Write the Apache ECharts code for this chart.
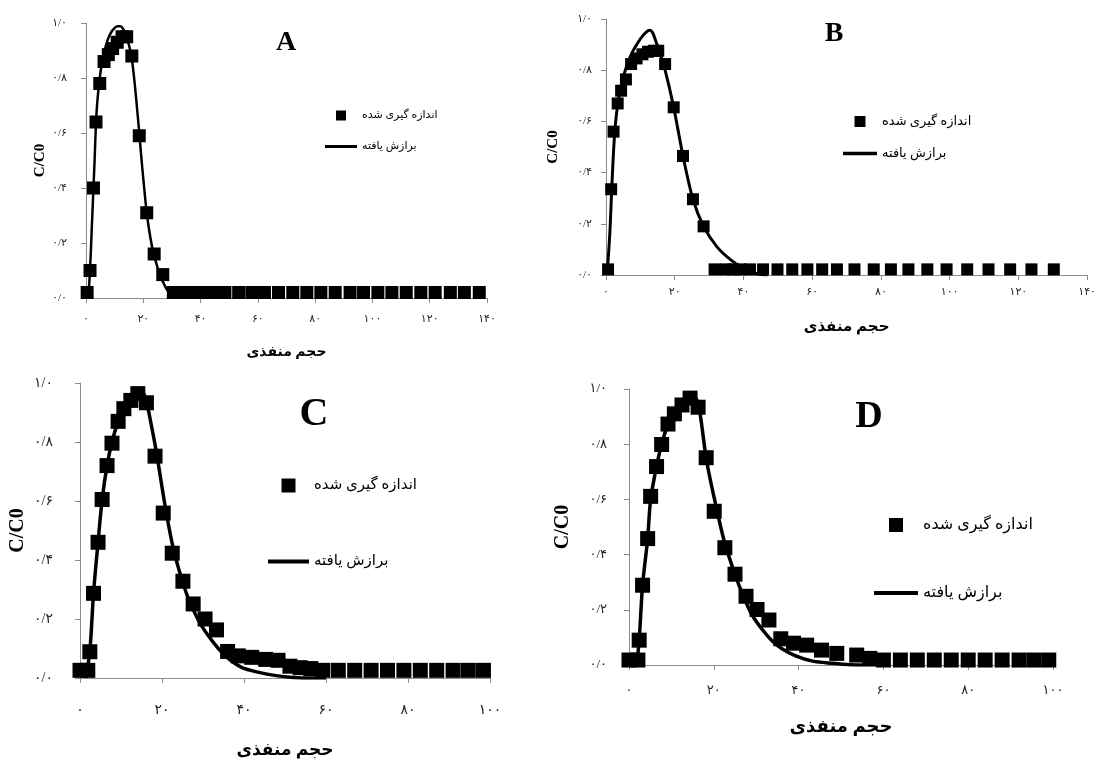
<!DOCTYPE html>
<html>
<head>
<meta charset="utf-8">
<script src="https://cdn.jsdelivr.net/npm/echarts@6/dist/echarts.min.js"></script>
<style>
html, body { margin: 0; padding: 0; background: #fff; }
#chart { width: 1099px; height: 762px; }
</style>
</head>
<body>
<div id="chart"></div>
<script>
var measName = 'اندازه گیری شده';
var fitName = 'برازش یافته';
var xName = 'حجم منفذی';
var yName = 'C/C0';
var panelLetters = ['A', 'B', 'C', 'D'];

var yTickLabels = ['۰/۰', '۰/۲', '۰/۴', '۰/۶', '۰/۸', '۱/۰'];
var xTickLabels140 = ['۰', '۲۰', '۴۰', '۶۰', '۸۰', '۱۰۰', '۱۲۰', '۱۴۰'];
var xTickLabels100 = ['۰', '۲۰', '۴۰', '۶۰', '۸۰', '۱۰۰'];

// A
var aMeasX = [0.4, 1.4, 2.6, 3.5, 4.8, 6.3, 7.8, 9.3, 10.9, 12.6, 14.2, 16, 18.6, 21.2, 23.8, 26.8,
  30.5, 32.5, 34.5, 36.5, 38.5, 40.5, 42.5, 44.5, 46.5, 48.5, 53.3, 57.9, 62.3, 67.2, 72.2, 77.1,
  82, 87, 92.2, 96.9, 101.9, 106.8, 111.8, 116.9, 121.9, 127.2, 132.1, 137.3];
var aMeasY = [0.02, 0.1, 0.4, 0.64, 0.78, 0.86, 0.885, 0.907, 0.93, 0.95, 0.95, 0.88, 0.59, 0.31, 0.16, 0.085,
  0.02, 0.02, 0.02, 0.02, 0.02, 0.02, 0.02, 0.02, 0.02, 0.02, 0.02, 0.02, 0.02, 0.02, 0.02, 0.02,
  0.02, 0.02, 0.02, 0.02, 0.02, 0.02, 0.02, 0.02, 0.02, 0.02, 0.02, 0.02];
var aFitX = [0.8, 1.4, 2, 2.6, 3, 3.5, 4, 4.8, 5.5, 6.3, 7, 8, 9, 10, 11, 12, 13, 14, 15, 16, 17, 18, 18.6,
  19.5, 20.5, 21.2, 22, 23, 23.8, 25, 26, 26.8, 28, 29, 30, 32];
var aFitY = [0, 0.1, 0.25, 0.4, 0.5, 0.64, 0.72, 0.8, 0.85, 0.89, 0.92, 0.95, 0.97, 0.982, 0.988, 0.988, 0.978,
  0.955, 0.92, 0.87, 0.78, 0.67, 0.6, 0.49, 0.38, 0.31, 0.25, 0.19, 0.155, 0.11, 0.08, 0.06, 0.035, 0.02, 0.01, 0];

// B
var bMeasX = [0.6, 1.5, 2.2, 3.4, 4.4, 5.8, 7.3, 8.9, 10.6, 12.2, 13.9, 15.2, 17.2, 19.7, 22.4, 25.3, 28.4,
  31.6, 34.9, 37, 39, 41.9, 45.7, 49.9, 54.2, 58.6, 62.9, 67.2, 72.3, 77.9, 82.9, 88, 93.5, 99.1,
  105.1, 111.3, 117.6, 123.8, 130.3];
var bMeasY = [0.022, 0.335, 0.56, 0.67, 0.72, 0.764, 0.824, 0.846, 0.862, 0.872, 0.876, 0.876, 0.824, 0.655,
  0.465, 0.296, 0.19,
  0.022, 0.022, 0.022, 0.022, 0.022, 0.022, 0.022, 0.022, 0.022, 0.022, 0.022, 0.022, 0.022, 0.022,
  0.022, 0.022, 0.022, 0.022, 0.022, 0.022, 0.022, 0.022];
var bFitX = [0.3, 1.1, 1.7, 2.4, 3.2, 4.6, 6.1, 7.5, 9.4, 10.9, 12.3, 12.8, 13.5, 14.2, 15.7, 17.2, 19.7,
  22.4, 25.3, 28.4, 32.3, 36.4, 40, 43.6, 47];
var bFitY = [0, 0.16, 0.345, 0.53, 0.645, 0.75, 0.82, 0.866, 0.91, 0.938, 0.955, 0.956, 0.948, 0.925, 0.866,
  0.8, 0.655, 0.465, 0.296, 0.19, 0.11, 0.058, 0.026, 0.006, 0];

// C
var cMeasX = [0, 1.9, 2.4, 3.3, 4.4, 5.4, 6.6, 7.8, 9.3, 10.7, 12.4, 14.1, 16.2, 18.3, 20.3, 22.5, 25.1,
  27.6, 30.5, 33.3, 36, 38.6, 41.9, 45.3, 48.3, 51.2, 53.7, 56.3, 59.2, 63, 67, 71, 75, 79, 83, 87,
  91, 94.7, 98.4];
var cMeasY = [0.026, 0.026, 0.089, 0.287, 0.46, 0.605, 0.72, 0.796, 0.87, 0.913, 0.941, 0.964, 0.933, 0.752,
  0.559, 0.423, 0.328, 0.251, 0.2, 0.163, 0.09, 0.075, 0.07, 0.063, 0.06, 0.04, 0.035, 0.032,
  0.026, 0.026, 0.026, 0.026, 0.026, 0.026, 0.026, 0.026, 0.026, 0.026, 0.026];
var cFitX = [1.4, 2.4, 3.3, 4.4, 5.4, 6.6, 7.8, 9.3, 10.7, 12.4, 14, 15, 16, 17.5, 18.7, 20.7, 22.5, 24.2,
  26.3, 28.9, 31, 33.5, 36, 39.4, 43.6, 47.8, 52, 56.3, 60];
var cFitY = [0, 0.09, 0.287, 0.46, 0.605, 0.72, 0.8, 0.87, 0.915, 0.948, 0.972, 0.972, 0.948, 0.85, 0.76,
  0.588, 0.455, 0.364, 0.274, 0.195, 0.149, 0.104, 0.068, 0.036, 0.019, 0.008, 0.002, 0, 0];

// D
var dMeasX = [0, 2.1, 2.4, 3.2, 4.4, 5.1, 6.5, 7.7, 9.2, 10.7, 12.5, 14.4, 16.3, 18.2, 20.1, 22.6, 25, 27.6,
  30.2, 33, 35.8, 38.8, 41.9, 45.4, 49, 53.7, 56.8, 60, 64, 68, 72, 76, 80, 84, 88, 92, 95.5, 99];
var dMeasY = [0.018, 0.018, 0.09, 0.289, 0.458, 0.611, 0.719, 0.799, 0.873, 0.91, 0.942, 0.967, 0.934, 0.751,
  0.557, 0.425, 0.329, 0.249, 0.201, 0.163, 0.095, 0.079, 0.072, 0.054, 0.042, 0.036, 0.024,
  0.018, 0.018, 0.018, 0.018, 0.018, 0.018, 0.018, 0.018, 0.018, 0.018, 0.018];
var dFitX = [1.8, 2.4, 3.2, 4.4, 5.1, 6.5, 7.7, 9.2, 10.7, 12.5, 14.4, 15.5, 16.5, 18.3, 20.4, 22.4, 24.4,
  26.4, 28.8, 31.2, 33.6, 36, 39.3, 43.3, 48.1, 52.1, 56.2, 60];
var dFitY = [0, 0.09, 0.289, 0.458, 0.6, 0.72, 0.8, 0.873, 0.912, 0.945, 0.972, 0.97, 0.935, 0.74, 0.584,
  0.452, 0.355, 0.271, 0.187, 0.133, 0.09, 0.06, 0.033, 0.014, 0.006, 0.001, 0, 0];

var serif = "'Liberation Serif', 'DejaVu Sans', serif";

// layout of the four panels (pixels)
var panels = [
  { meas: [aMeasX, aMeasY], fit: [aFitX, aFitY], xLabels: xTickLabels140, xMax: 140,
    grid: { left: 86, top: 23, width: 401, height: 275 }, mark: 13, lw: 2.5, tick: 11,
    xMargin: 16, yMargin: 19, xGap: 47, xFont: 14, yGap: 38, yFont: 15,
    letter: [286, 43, 28], leg: { left: 325, top: 110, w: 32, h: 10, gap: 20, font: 11 } },
  { meas: [bMeasX, bMeasY], fit: [bFitX, bFitY], xLabels: xTickLabels140, xMax: 140,
    grid: { left: 606, top: 19, width: 485, height: 256 }, mark: 12, lw: 3, tick: 11,
    xMargin: 12, yMargin: 14, xGap: 45, xFont: 15, yGap: 45, yFont: 15,
    letter: [834, 34, 28], leg: { left: 843, top: 115, w: 34, h: 11, gap: 19, font: 13 } },
  { meas: [cMeasX, cMeasY], fit: [cFitX, cFitY], xLabels: xTickLabels100, xMax: 100,
    grid: { left: 80, top: 383, width: 410, height: 295 }, mark: 15, lw: 3.5, tick: 14,
    xMargin: 25, yMargin: 27, xGap: 64, xFont: 17, yGap: 52, yFont: 20,
    letter: [314, 415, 40], leg: { left: 268, top: 478, w: 41, h: 14, gap: 61, font: 15 } },
  { meas: [dMeasX, dMeasY], fit: [dFitX, dFitY], xLabels: xTickLabels100, xMax: 100,
    grid: { left: 629, top: 389, width: 424, height: 276 }, mark: 15, lw: 3.5, tick: 13,
    xMargin: 19, yMargin: 22, xGap: 53, xFont: 18, yGap: 56, yFont: 20,
    letter: [869, 417, 38], leg: { left: 874, top: 517, w: 44, h: 14, gap: 52, font: 16 } }
];

function pairs(xs, ys) {
  return xs.map(function (x, i) { return [x, ys[i]]; });
}

var axisGray = '#8c8c8c';
var option = {
  backgroundColor: '#fff',
  animation: false,
  title: [], grid: [], xAxis: [], yAxis: [], legend: [], series: []
};

panels.forEach(function (p, i) {
  var lineThick = p.lw + 0.5;
  option.grid.push(p.grid);
  option.title.push({
    text: panelLetters[i], left: p.letter[0], top: p.letter[1], padding: 0,
    textAlign: 'center', textVerticalAlign: 'middle',
    textStyle: { fontFamily: serif, fontWeight: 'bold', fontSize: p.letter[2], color: '#000' }
  });
  option.xAxis.push({
    type: 'value', gridIndex: i, min: 0, max: p.xMax, interval: 20,
    splitLine: { show: false },
    axisLine: { show: true, lineStyle: { color: axisGray, width: 1 } },
    axisTick: { show: true, length: 5, lineStyle: { color: axisGray } },
    axisLabel: {
      margin: p.xMargin, fontSize: p.tick, fontFamily: serif, color: '#222',
      formatter: function (v) { return p.xLabels[Math.round(v / 20)]; }
    },
    name: xName, nameLocation: 'middle', nameGap: p.xGap,
    nameTextStyle: { fontFamily: serif, fontWeight: 'bold', fontSize: p.xFont, color: '#000' }
  });
  option.yAxis.push({
    type: 'value', gridIndex: i, min: 0, max: 1, interval: 0.2,
    splitLine: { show: false },
    axisLine: { show: true, lineStyle: { color: axisGray, width: 1 } },
    axisTick: { show: true, length: 5, lineStyle: { color: axisGray } },
    axisLabel: {
      margin: p.yMargin, fontSize: p.tick, fontFamily: serif, color: '#222',
      formatter: function (v) { return yTickLabels[Math.round(v / 0.2)]; }
    },
    name: yName, nameLocation: 'middle', nameGap: p.yGap,
    nameTextStyle: { fontFamily: serif, fontWeight: 'bold', fontSize: p.yFont, color: '#000' }
  });
  option.legend.push({
    orient: 'vertical', left: p.leg.left, top: p.leg.top, padding: 0,
    itemWidth: p.leg.w, itemHeight: p.leg.h, itemGap: p.leg.gap,
    selectedMode: false, symbolKeepAspect: true,
    textStyle: { fontFamily: serif, fontSize: p.leg.font, color: '#000' },
    data: [
      { name: measName, icon: 'path://M0,0H10V10H0Z', itemStyle: { color: '#000' } },
      { name: fitName, icon: 'path://M0,0H' + p.leg.w + 'V' + lineThick + 'H0Z',
        itemStyle: { color: '#000' } }
    ]
  });
  option.series.push({
    name: fitName, type: 'line', xAxisIndex: i, yAxisIndex: i,
    data: pairs(p.fit[0], p.fit[1]), showSymbol: false, symbol: 'none',
    smooth: 0.3, lineStyle: { color: '#000', width: p.lw }, itemStyle: { color: '#000' }, z: 2
  });
  option.series.push({
    name: measName, type: 'scatter', xAxisIndex: i, yAxisIndex: i,
    data: pairs(p.meas[0], p.meas[1]), symbol: 'rect', symbolSize: p.mark,
    itemStyle: { color: '#000', opacity: 1 }, z: 3
  });
});

var myChart = echarts.init(document.getElementById('chart'));
myChart.setOption(option, true);
</script>
</body>
</html>
